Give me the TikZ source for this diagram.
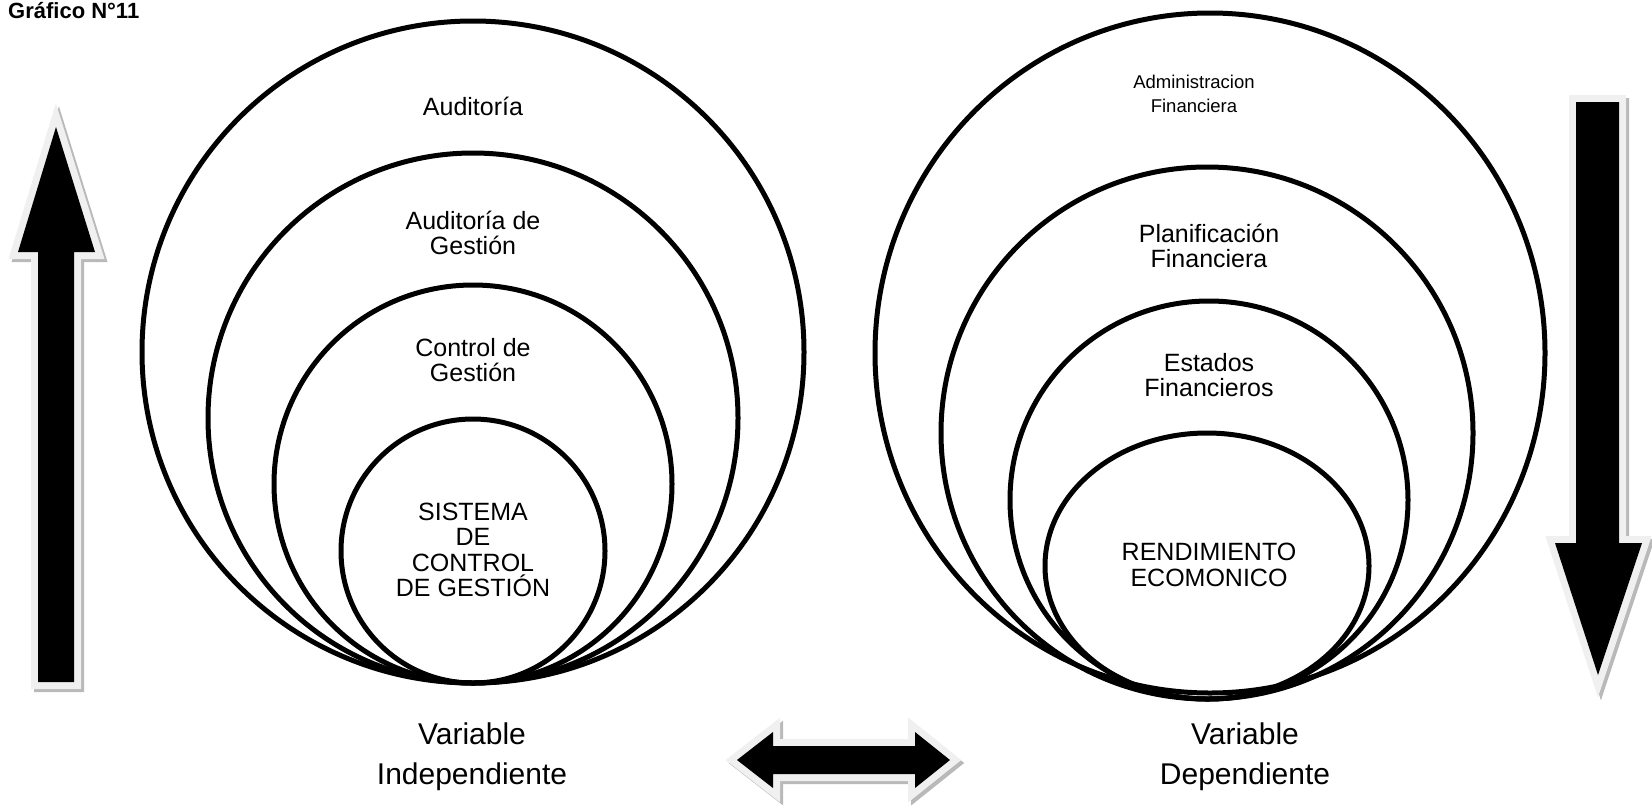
\documentclass[tikz,border=0pt]{standalone}
\usepackage{fontspec}
\setmainfont{Liberation Sans}
\begin{document}
\begin{tikzpicture}[x=1pt,y=-1pt,
  ring/.style={line width=5, draw=black},
  lbl/.style={align=center, inner sep=0, font=\fontsize{25}{25.5}\selectfont},
  smalllbl/.style={align=center, inner sep=0, font=\fontsize{18.5}{24}\selectfont},
  varlbl/.style={align=center, inner sep=0, font=\fontsize{30}{40}\selectfont},
  arrowshadow/.style={draw=gray!55, fill=gray!55, line width=14, line join=miter, shift={(3,3)}},
  arrowrim/.style={draw=black!6, fill=black!6, line width=14, line join=miter},
  arrowbody/.style={fill=black},
]
\useasboundingbox (0,0) rectangle (1652,807);

% heading
\node[anchor=base west, inner sep=0, font=\bfseries\fontsize{22}{22}\selectfont] (title) at (8,18) {Gráfico N°11};

% independent variable: nested circles tangent at the bottom
\draw[ring] (473,352) circle[radius=331];
\draw[ring] (473,418) circle[radius=265];
\draw[ring] (473,484) circle[radius=199];
\draw[ring] (473,551) circle[radius=132];

\node[lbl] (aud)  at (473,106) {Auditoría};
\node[lbl] (audg) at (473,233) {Auditoría de\\Gestión};
\node[lbl] (cg)   at (473,360) {Control de\\Gestión};
\node[lbl] (scg)  at (473,550) {SISTEMA\\DE\\CONTROL\\DE GESTIÓN};

% dependent variable: nested ellipses tangent at the bottom
\draw[ring] (1210,353) ellipse[x radius=335, y radius=340];
\draw[ring] (1207,433) circle[radius=266];
\draw[ring] (1209,500) circle[radius=199];
\draw[ring] (1207,566) ellipse[x radius=162, y radius=133];

\node[smalllbl] (adm)  at (1194,94)  {Administracion\\Financiera};
\node[lbl]      (plan) at (1209,246) {Planificación\\Financiera};
\node[lbl]      (est)  at (1209,375) {Estados\\Financieros};
\node[lbl]      (rend) at (1209,565) {RENDIMIENTO\\ECOMONICO};

% captions
\node[varlbl] (vind) at (472,757)  {Variable\\Independiente};
\node[varlbl] (vdep) at (1245,757) {Variable\\Dependiente};

% upward arrow
\def\uparrowpath{(38,682) -- (38,252) -- (18,252) -- (56,127) -- (95,252) -- (74,252) -- (74,682) -- cycle}
\path[arrowshadow] \uparrowpath;
\path[arrowrim] \uparrowpath;
\path[arrowbody] \uparrowpath;

% downward arrow
\def\downarrowpath{(1576,102) -- (1619,102) -- (1619,543) -- (1642,543) -- (1598,675) -- (1555,543) -- (1576,543) -- cycle}
\path[arrowshadow] \downarrowpath;
\path[arrowrim] \downarrowpath;
\path[arrowbody] \downarrowpath;

% two-headed arrow
\def\bothpath{(737,760) -- (773,732) -- (773,746) -- (915,746) -- (915,732) -- (950,760) -- (915,788) -- (915,774) -- (773,774) -- (773,788) -- cycle}
\path[arrowshadow] \bothpath;
\path[arrowrim] \bothpath;
\path[arrowbody] \bothpath;
\end{tikzpicture}
\end{document}
